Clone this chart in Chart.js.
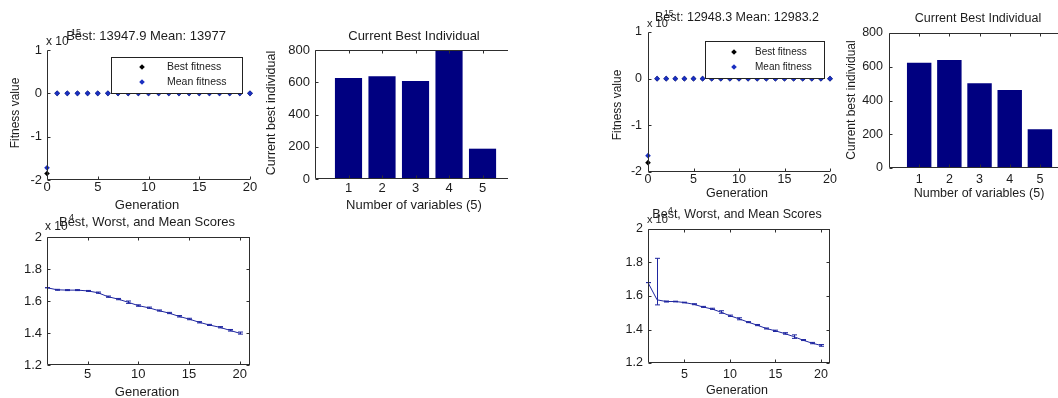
<!DOCTYPE html>
<html>
<head>
<meta charset="utf-8">
<script src="https://cdn.jsdelivr.net/npm/chart.js@4.4.0/dist/chart.umd.min.js"></script>
<style>
  html, body { margin: 0; padding: 0; background: #fff; }
  body { width: 1058px; height: 398px; position: relative; overflow: hidden; }
  canvas { position: absolute; }
</style>
</head>
<body>
<canvas id="fitA"></canvas>
<canvas id="barA"></canvas>
<canvas id="scoreA"></canvas>
<canvas id="fitB"></canvas>
<canvas id="barB"></canvas>
<canvas id="scoreB"></canvas>
<script>
// ---- shared axes ----
const generations = [0,1,2,3,4,5,6,7,8,9,10,11,12,13,14,15,16,17,18,19,20];
const scoreGenerations = [1,2,3,4,5,6,7,8,9,10,11,12,13,14,15,16,17,18,19,20];
const variableNumbers = [1,2,3,4,5];
const fitnessTicksX = [0,5,10,15,20];
const fitnessTicksY = [-2,-1,0,1];
const barTicksY = [0,200,400,600,800];
const scoreTicksX = [5,10,15,20];
const scoreTicksY = [1.2,1.4,1.6,1.8,2];

// ---- run A (left figure) ----  fitness in units of 1e15, scores in 1e4
const bestFitnessA = [-1.85,0,0,0,0,0,0,0,0,0,0,0,0,0,0,0,0,0,0,0,0];
const meanFitnessA = [-1.72,0,0,0,0,0,0,0,0,0,0,0,0,0,0,0,0,0,0,0,0];
const bestIndividualA = [626, 637, 608, 798, 188];
const meanScoresA  = [1.683,1.670,1.668,1.668,1.663,1.652,1.627,1.612,1.592,1.571,1.558,1.540,1.525,1.504,1.487,1.467,1.450,1.436,1.417,1.398];
const worstScoresA = [1.683,1.673,1.671,1.671,1.666,1.656,1.631,1.616,1.600,1.576,1.562,1.544,1.529,1.509,1.492,1.471,1.454,1.440,1.422,1.406];
const bestScoresA  = [1.683,1.667,1.665,1.665,1.660,1.648,1.623,1.608,1.585,1.567,1.554,1.537,1.521,1.500,1.483,1.463,1.447,1.432,1.412,1.393];

// ---- run B (right figure) ----
const bestFitnessB = [-1.80,0,0,0,0,0,0,0,0,0,0,0,0,0,0,0,0,0,0,0,0];
const meanFitnessB = [-1.65,0,0,0,0,0,0,0,0,0,0,0,0,0,0,0,0,0,0,0,0];
const bestIndividualB = [624, 640, 502, 462, 229];
const meanScoresB  = [1.680,1.577,1.567,1.567,1.561,1.551,1.535,1.523,1.504,1.482,1.464,1.444,1.426,1.406,1.392,1.376,1.358,1.337,1.319,1.305];
const worstScoresB = [1.680,1.825,1.570,1.569,1.563,1.554,1.538,1.527,1.512,1.486,1.470,1.447,1.430,1.409,1.396,1.381,1.368,1.340,1.323,1.310];
const bestScoresB  = [1.680,1.547,1.564,1.565,1.559,1.548,1.532,1.520,1.497,1.478,1.458,1.441,1.423,1.403,1.388,1.372,1.347,1.334,1.315,1.300];

const FONT = "'Liberation Sans', Arial, sans-serif";
const INK = '#1c1c1c';
const AXIS = '#2e2e2e';
const NAVY = '#000080';
const LINE = '#1f26a0';
const DOT = '#1a2fc0';

function place(id, rect) {
  const el = document.getElementById(id);
  el.width = rect[2]; el.height = rect[3];
  el.style.left = rect[0] + 'px'; el.style.top = rect[1] + 'px';
  el.style.width = rect[2] + 'px'; el.style.height = rect[3] + 'px';
  return el;
}

// canvas rect [x, y, w, h] and plot box [left, top, right, bottom] -> layout sizes
function frame(rect, box) {
  return {
    yWidth: box[0] - rect[0],
    xHeight: rect[1] + rect[3] - box[3],
    padTop: box[1] - rect[1],
    padRight: rect[0] + rect[2] - box[2]
  };
}

function axis(min, max, ticks, fmt, size, pad, extent, horizontal) {
  return {
    type: 'linear', min, max, offset: false,
    grid: { display: false, drawTicks: false },
    border: { display: false },
    afterBuildTicks: s => { s.ticks = ticks.map(v => ({ value: v })); },
    afterFit: s => { if (horizontal) s.height = extent; else s.width = extent; },
    ticks: { font: { family: FONT, size }, color: INK, padding: pad, callback: fmt, autoSkip: false, maxRotation: 0, minRotation: 0 }
  };
}

function axesLayer(box, openRight) {
  return {
    id: 'axesLayer',
    afterDatasetsDraw(chart) {
      const { ctx, chartArea: a, scales: { x, y } } = chart;
      const L = Math.round(a.left) + .5, R = Math.round(a.right) - .5;
      const T = Math.round(a.top) + .5, B = Math.round(a.bottom) - .5;
      const k = 3;
      ctx.save();
      ctx.strokeStyle = AXIS; ctx.lineWidth = 1;
      ctx.beginPath();
      ctx.moveTo(L, T); ctx.lineTo(L, B); ctx.lineTo(a.right, B);
      if (box) {
        ctx.moveTo(L, T); ctx.lineTo(a.right, T);
        if (!openRight) { ctx.moveTo(R, T); ctx.lineTo(R, B); }
      }
      x.ticks.forEach(t => {
        const px = Math.round(x.getPixelForValue(t.value)) + .5;
        ctx.moveTo(px, B); ctx.lineTo(px, B - k);
        if (box) { ctx.moveTo(px, T); ctx.lineTo(px, T + k); }
      });
      y.ticks.forEach(t => {
        const py = Math.round(y.getPixelForValue(t.value)) + .5;
        ctx.moveTo(L, py); ctx.lineTo(L + k, py);
        if (box && !openRight) { ctx.moveTo(R, py); ctx.lineTo(R - k, py); }
      });
      ctx.stroke();
      ctx.restore();
    }
  };
}

function textLayer(rect, items) {
  return {
    id: 'textLayer',
    afterDraw(chart) {
      const ctx = chart.ctx;
      items.forEach(it => {
        ctx.save();
        ctx.font = it.size + 'px ' + FONT;
        ctx.fillStyle = INK;
        ctx.textAlign = it.align || 'center';
        ctx.textBaseline = 'middle';
        ctx.translate(it.x - rect[0], it.y - rect[1]);
        if (it.rot) ctx.rotate(it.rot * Math.PI / 180);
        ctx.fillText(it.t, 0, 0);
        ctx.restore();
      });
    }
  };
}

// legend box in page coords: [left, top, right, bottom], marker x, text x, row ys
function legendLayer(rect, lg) {
  return {
    id: 'legendLayer',
    afterDraw(chart) {
      const ctx = chart.ctx;
      const ox = rect[0], oy = rect[1];
      ctx.save();
      ctx.fillStyle = '#fff';
      ctx.strokeStyle = '#222';
      ctx.lineWidth = 1;
      const x0 = lg.box[0] - ox + .5, y0 = lg.box[1] - oy + .5;
      const w = lg.box[2] - lg.box[0], h = lg.box[3] - lg.box[1];
      ctx.fillRect(x0, y0, w, h);
      ctx.strokeRect(x0, y0, w, h);
      ctx.font = lg.size + 'px ' + FONT;
      ctx.textBaseline = 'middle';
      ctx.textAlign = 'left';
      chart.data.datasets.forEach((ds, i) => {
        const my = lg.rows[i] - oy, mx = lg.marker - ox;
        ctx.fillStyle = ds.pointBackgroundColor;
        ctx.beginPath();
        ctx.moveTo(mx, my - 2.8); ctx.lineTo(mx + 2.8, my); ctx.lineTo(mx, my + 2.8); ctx.lineTo(mx - 2.8, my);
        ctx.closePath(); ctx.fill();
        ctx.fillStyle = INK;
        ctx.fillText(ds.label, lg.text - ox, my);
      });
      ctx.restore();
    }
  };
}

function errorBarLayer(xs, lo, hi) {
  return {
    id: 'errorBars',
    afterDatasetsDraw(chart) {
      const { ctx, scales: { x, y } } = chart;
      ctx.save();
      ctx.strokeStyle = LINE; ctx.lineWidth = 1;
      ctx.beginPath();
      xs.forEach((g, i) => {
        const px = Math.round(x.getPixelForValue(g)) + .5;
        const y1 = y.getPixelForValue(lo[i]), y2 = y.getPixelForValue(hi[i]);
        ctx.moveTo(px, y1); ctx.lineTo(px, y2);
        ctx.moveTo(px - 2.5, y1); ctx.lineTo(px + 2.5, y1);
        ctx.moveTo(px - 2.5, y2); ctx.lineTo(px + 2.5, y2);
      });
      ctx.stroke();
      ctx.restore();
    }
  };
}

const baseOptions = (f, xs, ys) => ({
  responsive: false, animation: false, devicePixelRatio: 1,
  layout: { padding: { top: f.padTop, right: f.padRight, left: 0, bottom: 0 } },
  plugins: { legend: { display: false }, tooltip: { enabled: false } },
  scales: { x: xs, y: ys }
});

function fitnessChart(id, p) {
  const f = frame(p.rect, p.box);
  const el = place(id, p.rect);
  new Chart(el, {
    type: 'scatter',
    data: {
      datasets: [
        { label: 'Best fitness', data: generations.map((g, i) => ({ x: g, y: p.best[i] })),
          pointStyle: 'rectRot', pointRadius: 2.8, pointBackgroundColor: '#000', pointBorderWidth: 0, order: 1, clip: false },
        { label: 'Mean fitness', data: generations.map((g, i) => ({ x: g, y: p.mean[i] })),
          pointStyle: 'rectRot', pointRadius: 2.8, pointBackgroundColor: DOT, pointBorderWidth: 0, order: 0, clip: false }
      ]
    },
    options: baseOptions(f,
      axis(0, 20, fitnessTicksX, v => String(v), p.tick, p.xPad, f.xHeight, true),
      axis(-2, 1, fitnessTicksY, v => String(v), p.tick, p.yPad, f.yWidth, false)),
    plugins: [axesLayer(false, false), legendLayer(p.rect, p.legend), textLayer(p.rect, p.texts)]
  });
}

function barChart(id, p) {
  const f = frame(p.rect, p.box);
  const el = place(id, p.rect);
  new Chart(el, {
    type: 'bar',
    data: {
      datasets: [{ data: variableNumbers.map((v, i) => ({ x: v, y: p.values[i] })),
        backgroundColor: NAVY, borderWidth: 0, barPercentage: 1, categoryPercentage: 0.81 }]
    },
    options: baseOptions(f,
      axis(0, p.xMax, variableNumbers, v => String(v), p.tick, p.xPad, f.xHeight, true),
      axis(0, 800, barTicksY, v => String(v), p.tick, p.yPad, f.yWidth, false)),
    plugins: [axesLayer(true, true), textLayer(p.rect, p.texts)]
  });
}

function scoreChart(id, p) {
  const f = frame(p.rect, p.box);
  const el = place(id, p.rect);
  new Chart(el, {
    type: 'line',
    data: {
      datasets: [{ data: scoreGenerations.map((g, i) => ({ x: g, y: p.mean[i] })),
        borderColor: LINE, borderWidth: 1, pointRadius: 0, tension: 0, fill: false }]
    },
    options: baseOptions(f,
      axis(1, 21, scoreTicksX, v => String(v), p.tick, p.xPad, f.xHeight, true),
      axis(1.2, 2, scoreTicksY, v => String(+v.toFixed(1)), p.tick, p.yPad, f.yWidth, false)),
    plugins: [errorBarLayer(scoreGenerations, p.lo, p.hi), axesLayer(true, false), textLayer(p.rect, p.texts)]
  });
}

// ---- left figure ----
fitnessChart('fitA', {
  rect: [0, 0, 262, 215], box: [47, 50, 250, 180], best: bestFitnessA, mean: meanFitnessA,
  tick: 13, xPad: 0, yPad: 5,
  legend: { box: [111, 57, 242, 93], marker: 142, text: 167, rows: [67, 82], size: 10.5 },
  texts: [
    { t: 'x 10', x: 46, y: 42, size: 12, align: 'left' },
    { t: '15', x: 71, y: 33, size: 9, align: 'left' },
    { t: 'Best: 13947.9 Mean: 13977', x: 146, y: 36, size: 13 },
    { t: 'Generation', x: 147, y: 205, size: 13 },
    { t: 'Fitness value', x: 16, y: 113, size: 12, rot: -90 }
  ]
});
barChart('barA', {
  rect: [262, 0, 246, 215], box: [315, 50, 508, 179], values: bestIndividualA, xMax: 5.76,
  tick: 13, xPad: 2, yPad: 5,
  texts: [
    { t: 'Current Best Individual', x: 414, y: 36, size: 13 },
    { t: 'Number of variables (5)', x: 414, y: 205, size: 13 },
    { t: 'Current best individual', x: 272, y: 113, size: 12.5, rot: -90 }
  ]
});
scoreChart('scoreA', {
  rect: [0, 212, 262, 186], box: [47, 237, 250, 365], mean: meanScoresA, lo: bestScoresA, hi: worstScoresA,
  tick: 13, xPad: 2, yPad: 5,
  texts: [
    { t: 'x 10', x: 45, y: 227, size: 12, align: 'left' },
    { t: '4', x: 69, y: 218, size: 9, align: 'left' },
    { t: 'Best, Worst, and Mean Scores', x: 147, y: 222, size: 13 },
    { t: 'Generation', x: 147, y: 392, size: 13 }
  ]
});

// ---- right figure ----
fitnessChart('fitB', {
  rect: [596, 0, 246, 205], box: [648, 32, 830, 172], best: bestFitnessB, mean: meanFitnessB,
  tick: 12.5, xPad: 0, yPad: 6,
  legend: { box: [705, 41, 824, 78], marker: 734, text: 755, rows: [52, 67], size: 10 },
  texts: [
    { t: 'x 10', x: 647, y: 24, size: 11, align: 'left' },
    { t: '15', x: 664, y: 14, size: 8.5, align: 'left' },
    { t: 'Best: 12948.3 Mean: 12983.2', x: 737, y: 18, size: 12.5 },
    { t: 'Generation', x: 737, y: 194, size: 12.5 },
    { t: 'Fitness value', x: 618, y: 105, size: 12, rot: -90 }
  ]
});
barChart('barB', {
  rect: [842, 0, 216, 205], box: [889, 33, 1058, 168], values: bestIndividualB, xMax: 5.6,
  tick: 12.5, xPad: 4, yPad: 6,
  texts: [
    { t: 'Current Best Individual', x: 978, y: 19, size: 12.5 },
    { t: 'Number of variables (5)', x: 979, y: 194, size: 12.5 },
    { t: 'Current best individual', x: 852, y: 100, size: 12, rot: -90 }
  ]
});
scoreChart('scoreB', {
  rect: [596, 200, 246, 198], box: [648, 229, 830, 363], mean: meanScoresB, lo: bestScoresB, hi: worstScoresB,
  tick: 12.5, xPad: 4, yPad: 5,
  texts: [
    { t: 'x 10', x: 647, y: 220, size: 11, align: 'left' },
    { t: '4', x: 668, y: 211, size: 8.5, align: 'left' },
    { t: 'Best, Worst, and Mean Scores', x: 737, y: 215, size: 12.5 },
    { t: 'Generation', x: 737, y: 391, size: 12.5 }
  ]
});
</script>
</body>
</html>
